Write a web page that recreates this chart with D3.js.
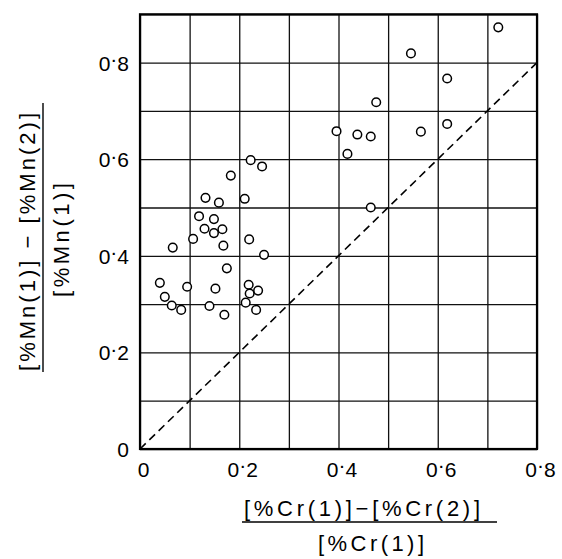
<html>
<head>
  <title>Mn vs Cr</title>
</head>
<style>
  body { margin: 0; padding: 0; background: #fff; }
  text { font-family: "Liberation Sans", Arial, sans-serif; fill: #000; }
</style>
<body>
  <div id="chart"></div>
</body>
<script src="https://cdn.jsdelivr.net/npm/d3@7"></script>
<script>
  // values
  const crRatio = [0.722, 0.546, 0.619, 0.476, 0.619, 0.566, 0.396, 0.438, 0.465, 0.418,
    0.223, 0.246, 0.183, 0.132, 0.159, 0.211, 0.465, 0.119, 0.149, 0.130,
    0.149, 0.166, 0.107, 0.220, 0.168, 0.066, 0.250, 0.175, 0.040, 0.095,
    0.152, 0.219, 0.221, 0.238, 0.050, 0.064, 0.083, 0.140, 0.170, 0.213, 0.234]
  const mnRatio = [0.873, 0.819, 0.767, 0.718, 0.673, 0.657, 0.658, 0.651, 0.647, 0.611,
    0.598, 0.585, 0.566, 0.520, 0.510, 0.518, 0.500, 0.482, 0.476, 0.456,
    0.447, 0.455, 0.435, 0.434, 0.421, 0.417, 0.402, 0.374, 0.344, 0.336,
    0.332, 0.340, 0.322, 0.328, 0.315, 0.297, 0.288, 0.296, 0.278, 0.303, 0.288]
  const xGrid = [0, 0.1, 0.2, 0.3, 0.4, 0.5, 0.6, 0.7, 0.8]
  const yGrid = [0, 0.1, 0.2, 0.3, 0.4, 0.5, 0.6, 0.7, 0.8, 0.9]
  const xLabels = [0, 0.2, 0.4, 0.6, 0.8]
  const yLabels = [0, 0.2, 0.4, 0.6, 0.8]
  const diagonal = [[0, 0], [0.8, 0.8]]

  const W = 562, H = 559
  const pLeft = 140, pRight = 537, pTop = 14.3, pBottom = 449

  const svg = d3.select("#chart").append("svg")
    .attr("width", W)
    .attr("height", H)

  const x = d3.scaleLinear().domain([0, 0.8]).range([pLeft, pRight])
  const y = d3.scaleLinear().domain([0, 0.9]).range([pBottom, pTop])

  // "0·8" with the decimal dot raised, as in the print
  function dotLabel(sel) {
    sel.each(function (d) {
      const t = d3.select(this).text("")
      if (d === 0) { t.text("0"); return }
      const s = d3.format(".1f")(d)
      t.append("tspan").text(s[0])
      t.append("tspan").text("·").attr("dy", "-0.22em")
      t.append("tspan").text(s[2]).attr("dy", "0.22em")
    })
  }

  // grid
  svg.append("g")
    .attr("transform", `translate(0,${pBottom})`)
    .call(d3.axisBottom(x).tickValues(xGrid).tickSize(-(pBottom - pTop)).tickFormat(""))
  svg.append("g")
    .attr("transform", `translate(${pLeft},0)`)
    .call(d3.axisLeft(y).tickValues(yGrid).tickSize(-(pRight - pLeft)).tickFormat(""))
  svg.selectAll(".domain").remove()
  svg.selectAll(".tick line").attr("stroke", "#111").attr("stroke-width", 1.3)

  // frame
  svg.append("rect")
    .attr("x", pLeft).attr("y", pTop)
    .attr("width", pRight - pLeft).attr("height", pBottom - pTop)
    .attr("fill", "none").attr("stroke", "#000").attr("stroke-width", 2.2)

  // tick labels
  const lx = svg.append("g")
    .attr("transform", `translate(0,${pBottom})`)
    .call(d3.axisBottom(x).tickValues(xLabels).tickSize(0).tickPadding(13))
  lx.select(".domain").remove()
  lx.selectAll("text").attr("font-size", 21).attr("dx", 3)
    .attr("font-family", "Liberation Sans, Arial, sans-serif")
    .call(dotLabel)

  const ly = svg.append("g")
    .attr("transform", `translate(${pLeft},0)`)
    .call(d3.axisLeft(y).tickValues(yLabels).tickSize(0).tickPadding(11))
  ly.select(".domain").remove()
  ly.selectAll("text").attr("font-size", 21).attr("dy", "0.36em")
    .attr("font-family", "Liberation Sans, Arial, sans-serif")
    .call(dotLabel)

  // diagonal
  svg.append("path")
    .datum(diagonal)
    .attr("d", d3.line().x(d => x(d[0])).y(d => y(d[1])))
    .attr("fill", "none").attr("stroke", "#000")
    .attr("stroke-width", 1.6).attr("stroke-dasharray", "8,5")

  // points
  svg.selectAll("circle.pt").data(crRatio).join("circle")
    .attr("class", "pt")
    .attr("cx", d => x(d))
    .attr("cy", (d, i) => y(mnRatio[i]))
    .attr("r", 4.3)
    .attr("fill", "#fff").attr("stroke", "#000").attr("stroke-width", 1.5)

  // x title
  svg.append("text").text("[%Cr(1)]−[%Cr(2)]")
    .attr("x", 362).attr("y", 516).attr("text-anchor", "middle")
    .attr("font-size", 22).attr("textLength", 236).attr("lengthAdjust", "spacing")
  svg.append("line")
    .attr("x1", 242).attr("x2", 497).attr("y1", 522).attr("y2", 522)
    .attr("stroke", "#000").attr("stroke-width", 1.4)
  svg.append("text").text("[%Cr(1)]")
    .attr("x", 371).attr("y", 551).attr("text-anchor", "middle")
    .attr("font-size", 22).attr("textLength", 106).attr("lengthAdjust", "spacing")

  // y title
  const yt = svg.append("g").attr("transform", "rotate(-90)")
  yt.append("text").text("[%Mn(1)] − [%Mn(2)]")
    .attr("x", -242).attr("y", 35).attr("text-anchor", "middle")
    .attr("font-size", 22).attr("textLength", 258).attr("lengthAdjust", "spacing")
  svg.append("line")
    .attr("x1", 43).attr("x2", 43).attr("y1", 103).attr("y2", 372)
    .attr("stroke", "#000").attr("stroke-width", 1.4)
  yt.append("text").text("[%Mn(1)]")
    .attr("x", -240).attr("y", 69).attr("text-anchor", "middle")
    .attr("font-size", 22).attr("textLength", 114).attr("lengthAdjust", "spacing")
</script>
</html>
